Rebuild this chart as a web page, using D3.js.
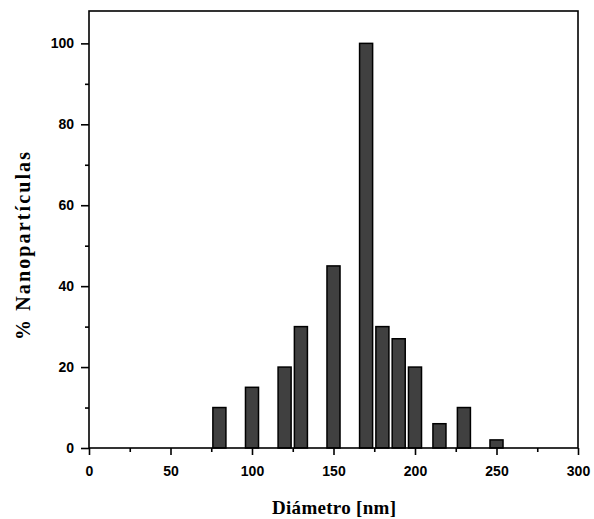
<!DOCTYPE html>
<html>
<head>
<meta charset="utf-8">
<script src="https://cdn.jsdelivr.net/npm/d3@7"></script>
<style>
  body { margin: 0; background: #fff; }
  .axis text { font-family: "Liberation Sans", Arial, sans-serif; font-weight: bold; font-size: 14px; fill: #000; }
  .title { font-family: "Liberation Serif", "Times New Roman", serif; font-weight: bold; fill: #000; }
</style>
</head>
<body>
<script>
// bin centres (nm) and percentages
const diameters = [80, 100, 120, 130, 150, 170, 180, 190, 200, 215, 230, 250];
const percents  = [10, 15, 20, 30, 45, 100, 30, 27, 20, 6, 10, 2];
const xTicks = [0, 50, 100, 150, 200, 250, 300];
const yTicks = [0, 20, 40, 60, 80, 100];
const binWidth = 8;

let width = 594, height = 519;
let margin = {top: 11, right: 16, bottom: 71, left: 89};

let svg = d3.select("body")
        .append("svg")
        .attr("width", width)
        .attr("height", height);

let x = d3.scaleLinear()
        .domain([0, 300])
        .range([margin.left, width - margin.right]);

let y = d3.scaleLinear()
        .domain([0, 108])
        .range([height - margin.bottom, margin.top]);

// bars
svg.selectAll("rect.bar")
        .data(diameters)
        .enter()
        .append("rect")
        .attr("class", "bar")
        .attr("x", (d) => x(d - binWidth / 2))
        .attr("y", (d, i) => y(percents[i]))
        .attr("width", x(binWidth) - x(0))
        .attr("height", (d, i) => y(0) - y(percents[i]))
        .attr("fill", "#404040")
        .attr("stroke", "#000")
        .attr("stroke-width", 1.5);

// frame
svg.append("rect")
        .attr("x", x(0))
        .attr("y", y(108))
        .attr("width", x(300) - x(0))
        .attr("height", y(0) - y(108))
        .attr("fill", "none")
        .attr("stroke", "#000")
        .attr("stroke-width", 1.6);

// minor ticks
let xMinor = d3.range(25, 300, 50);
let yMinor = d3.range(10, 108, 20);
svg.append("g")
        .attr("transform", "translate(0," + y(0) + ")")
        .call(d3.axisBottom(x).tickValues(xMinor).tickSize(4).tickFormat(""))
        .call(g => g.select(".domain").remove())
        .selectAll("line").attr("stroke-width", 1.6);
svg.append("g")
        .attr("transform", "translate(" + x(0) + ",0)")
        .call(d3.axisLeft(y).tickValues(yMinor).tickSize(4).tickFormat(""))
        .call(g => g.select(".domain").remove())
        .selectAll("line").attr("stroke-width", 1.6);

// major ticks + labels
let xAxis = svg.append("g")
        .attr('class', 'axis x')
        .attr("transform", "translate(0," + y(0) + ")")
        .call(d3.axisBottom(x).tickValues(xTicks).tickSize(7).tickPadding(11));
xAxis.select(".domain").remove();
xAxis.selectAll("line").attr("stroke-width", 1.6);

let yAxis = svg.append("g")
        .attr('class', 'axis y')
        .attr("transform", "translate(" + x(0) + ",0)")
        .call(d3.axisLeft(y).tickValues(yTicks).tickSize(8).tickPadding(7));
yAxis.select(".domain").remove();
yAxis.selectAll("line").attr("stroke-width", 1.6);

// titles
svg.append("text")
        .attr("class", "title")
        .attr("x", 334)
        .attr("y", 514)
        .attr("text-anchor", "middle")
        .attr("textLength", 124)
        .attr("lengthAdjust", "spacing")
        .style("font-size", "19px")
        .text("Diámetro [nm]");

svg.append("text")
        .attr("class", "title")
        .attr("transform", "translate(30,246)rotate(-90)")
        .attr("text-anchor", "middle")
        .attr("textLength", 188)
        .attr("lengthAdjust", "spacing")
        .style("font-size", "20px")
        .text("% Nanopartículas");
</script>
</body>
</html>
